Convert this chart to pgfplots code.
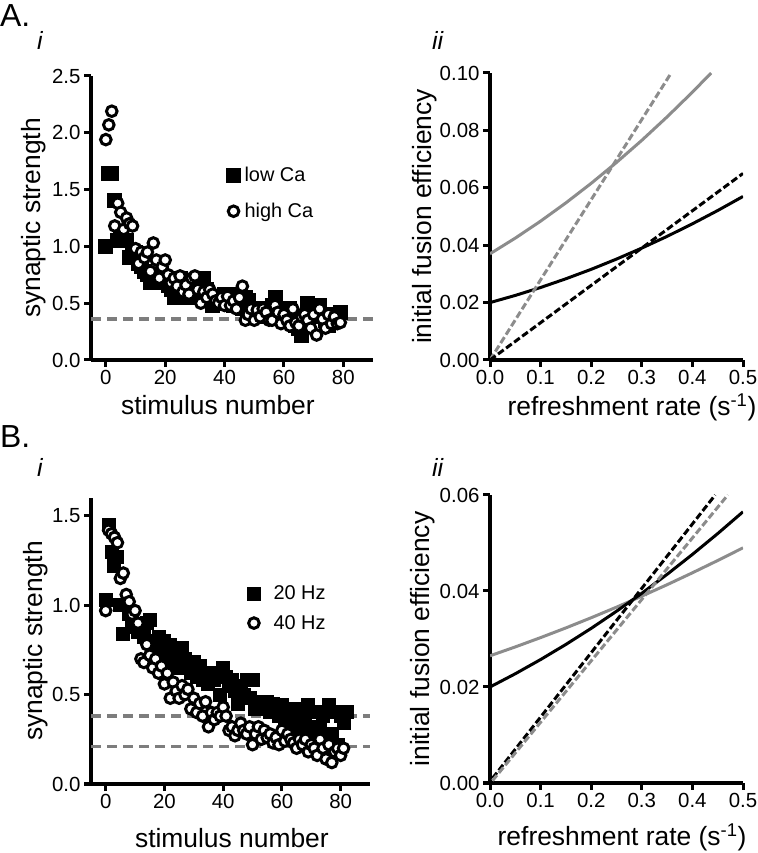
\documentclass[border=0pt]{standalone}
\usepackage{pgfplots}
\pgfplotsset{compat=1.18}
\usepackage{fontspec}
\setmainfont{Liberation Sans}
\definecolor{lgray}{RGB}{125,125,125}
\definecolor{cgray}{RGB}{140,140,140}
\pgfplotsset{
  myax/.style={
    scale only axis,
    axis lines=left,
    axis line style={line width=3.4bp, -},
    tick align=outside,
    major tick length=7bp,
    tick style={line width=3bp, black},
    tick label style={font=\fontsize{20.5}{24}\selectfont},
    label style={font=\fontsize{26.5}{32}\selectfont},
    /pgf/number format/assume math mode=true,
    scaled ticks=false,
    legend style={draw=none, fill=none, font=\fontsize{20}{24}\selectfont, inner sep=0pt, cells={anchor=west}},
  },
  sq/.style={only marks, mark=square*, mark size=7bp, mark options={fill=black, draw=black, line width=0pt}},
  ci/.style={only marks, mark=*, mark size=5.3bp, mark options={fill=white, draw=black, line width=3bp}},
  hdash/.style={lgray, line width=3.4bp, dash pattern=on 10bp off 6bp},
  sdash/.style={line width=3bp, dash pattern=on 7bp off 3bp},
  csolid/.style={line width=3bp},
}
\begin{document}
\begin{tikzpicture}
\useasboundingbox (0bp,0bp) rectangle (758bp,853bp);
% panel letters
\node[anchor=base west, inner sep=0, font=\fontsize{32}{36}\selectfont] at (0bp,826bp) {A.};
\node[anchor=base west, inner sep=0, font=\fontsize{32}{36}\selectfont] at (0bp,405bp) {B.};
\node[anchor=base west, inner sep=0, font=\itshape\fontsize{25}{28}\selectfont] at (37bp,803bp) {i};
\node[anchor=base west, inner sep=0, font=\itshape\fontsize{25}{28}\selectfont] at (37bp,376bp) {i};
\node[anchor=base west, inner sep=0, font=\itshape\fontsize{25}{28}\selectfont] at (432bp,803bp) {ii};
\node[anchor=base west, inner sep=0, font=\itshape\fontsize{25}{28}\selectfont] at (432bp,376bp) {ii};

% ---------------- A(i)
\begin{axis}[myax, at={(91bp,493bp)}, anchor=south west, width=282bp, height=284bp,
  xmin=-5, xmax=90, ymin=0, ymax=2.5,
  xtick={0,20,40,60,80}, ytick={0,0.5,1,1.5,2,2.5},
  yticklabel style={/pgf/number format/fixed, /pgf/number format/fixed zerofill, /pgf/number format/precision=1},
  xlabel={stimulus number}, ylabel={synaptic strength},
  xlabel style={at={(axis description cs:0.45,-0.158)}, anchor=center},
  ylabel style={at={(axis description cs:-0.202,0.5)}, anchor=center},
  legend style={at={(axis description cs:0.48,0.686)}, anchor=north west, row sep=16bp},
]
\addplot[hdash, forget plot] coordinates {(-5,0.36) (90,0.36)};
\addplot[sq] coordinates {
(0,1.00)(1,1.64)(2,1.64)(3,1.40)(4,1.05)(5,1.08)(6,1.05)(7,1.05)(8,0.90)(9,0.95)
(10,0.95)(11,0.85)(12,0.82)(13,0.78)(14,0.75)(15,0.68)(16,0.72)(17,0.70)(18,0.75)(19,0.68)
(20,0.70)(21,0.66)(22,0.62)(23,0.55)(24,0.70)(25,0.72)(26,0.65)(27,0.70)(28,0.55)(29,0.62)
(30,0.68)(31,0.60)(32,0.70)(33,0.72)(34,0.62)(35,0.55)(36,0.48)(37,0.52)(38,0.55)(39,0.50)
(40,0.58)(41,0.52)(42,0.50)(43,0.48)(44,0.58)(45,0.50)(46,0.45)(47,0.55)(48,0.52)(49,0.45)
(50,0.42)(51,0.40)(52,0.45)(53,0.40)(54,0.38)(55,0.42)(56,0.48)(57,0.55)(58,0.45)(59,0.40)
(60,0.42)(61,0.38)(62,0.45)(63,0.38)(64,0.30)(65,0.28)(66,0.22)(67,0.30)(68,0.50)(69,0.45)
(70,0.38)(71,0.42)(72,0.48)(73,0.40)(74,0.35)(75,0.30)(76,0.38)(77,0.35)(78,0.40)(79,0.42)};
\addlegendentry{\kern2bp low Ca}
\addplot[ci] coordinates {
(0,1.94)(1,2.07)(2,2.19)(3,1.18)(4,1.38)(5,1.30)(6,1.15)(7,1.25)(8,1.20)(9,1.18)
(10,0.98)(11,0.85)(12,0.95)(13,0.90)(14,0.95)(15,0.78)(16,1.03)(17,0.88)(18,0.72)(19,0.82)
(20,0.88)(21,0.75)(22,0.68)(23,0.72)(24,0.65)(25,0.74)(26,0.60)(27,0.66)(28,0.58)(29,0.72)
(30,0.74)(31,0.62)(32,0.50)(33,0.60)(34,0.55)(35,0.62)(36,0.58)(37,0.52)(38,0.50)(39,0.55)
(40,0.48)(41,0.56)(42,0.48)(43,0.52)(44,0.45)(45,0.55)(46,0.65)(47,0.35)(48,0.40)(49,0.45)
(50,0.35)(51,0.44)(52,0.38)(53,0.45)(54,0.42)(55,0.35)(56,0.35)(57,0.48)(58,0.42)(59,0.32)
(60,0.40)(61,0.35)(62,0.30)(63,0.45)(64,0.33)(65,0.30)(66,0.38)(67,0.40)(68,0.35)(69,0.28)
(70,0.40)(71,0.22)(72,0.45)(73,0.36)(74,0.28)(75,0.40)(76,0.32)(77,0.38)(78,0.32)(79,0.33)};
\addlegendentry{\kern2bp high Ca}
\end{axis}

% ---------------- A(ii)
\begin{axis}[myax, at={(490bp,493bp)}, anchor=south west, width=253bp, height=287bp,
  xmin=0, xmax=0.5, ymin=0, ymax=0.1,
  xtick={0,0.1,0.2,0.3,0.4,0.5}, ytick={0,0.02,0.04,0.06,0.08,0.1},
  xticklabel style={/pgf/number format/fixed, /pgf/number format/fixed zerofill, /pgf/number format/precision=1},
  yticklabel style={/pgf/number format/fixed, /pgf/number format/fixed zerofill, /pgf/number format/precision=2},
  xlabel={refreshment rate (s\textsuperscript{-1})}, ylabel={initial fusion efficiency},
  xlabel style={at={(axis description cs:0.561,-0.165)}, anchor=center},
  ylabel style={at={(axis description cs:-0.26,0.5)}, anchor=center},
]
\addplot[cgray, csolid] coordinates {
(0,0.0370)(0.05,0.04247)(0.1,0.04838)(0.15,0.05475)(0.2,0.06156)(0.25,0.06883)(0.3,0.07654)(0.35,0.08471)(0.4,0.09332)(0.437,0.1)};
\addplot[black, csolid] coordinates {
(0,0.02)(0.05,0.02250)(0.1,0.02526)(0.15,0.02830)(0.2,0.03159)(0.25,0.03516)(0.3,0.03899)(0.35,0.04308)(0.4,0.04745)(0.45,0.05208)(0.5,0.05698)};
\addplot[cgray, sdash] coordinates {(0,0)(0.358,0.1)};
\addplot[black, sdash] coordinates {(0,0)(0.5,0.065)};
\end{axis}

% ---------------- B(i)
\begin{axis}[myax, at={(91bp,69bp)}, anchor=south west, width=279bp, height=286bp,
  xmin=-5, xmax=90, ymin=0, ymax=1.6,
  xtick={0,20,40,60,80}, ytick={0,0.5,1,1.5},
  yticklabel style={/pgf/number format/fixed, /pgf/number format/fixed zerofill, /pgf/number format/precision=1},
  xlabel={stimulus number}, ylabel={synaptic strength},
  xlabel style={at={(axis description cs:0.505,-0.189)}, anchor=center},
  ylabel style={at={(axis description cs:-0.197,0.5)}, anchor=center},
  legend style={at={(axis description cs:0.56,0.70)}, anchor=north west, row sep=10bp},
  sq/.append style={mark size=6.5bp},
]
\addplot[hdash, forget plot] coordinates {(-5,0.38) (90,0.38)};
\addplot[hdash, forget plot] coordinates {(-5,0.21) (90,0.21)};
\addplot[sq] coordinates {
(0,1.03)(1,1.45)(2,1.30)(3,1.22)(4,1.27)(5,1.00)(6,0.84)(7,1.00)(8,0.95)(9,0.92)
(10,0.88)(11,0.85)(12,0.88)(13,0.82)(14,0.90)(15,0.92)(16,0.80)(17,0.78)(18,0.82)(19,0.75)
(20,0.80)(21,0.72)(22,0.78)(23,0.68)(24,0.72)(25,0.65)(26,0.76)(27,0.70)(28,0.66)(29,0.62)
(30,0.68)(31,0.60)(32,0.66)(33,0.58)(34,0.62)(35,0.56)(36,0.60)(37,0.58)(38,0.62)(39,0.50)
(40,0.65)(41,0.60)(42,0.55)(43,0.58)(44,0.52)(45,0.45)(46,0.55)(47,0.50)(48,0.58)(49,0.48)
(50,0.58)(51,0.42)(52,0.46)(53,0.44)(54,0.42)(55,0.46)(56,0.40)(57,0.45)(58,0.42)(59,0.38)
(60,0.44)(61,0.35)(62,0.40)(63,0.32)(64,0.42)(65,0.36)(66,0.42)(67,0.30)(68,0.38)(69,0.44)
(70,0.32)(71,0.28)(72,0.40)(73,0.30)(74,0.38)(75,0.28)(76,0.44)(77,0.28)(78,0.40)(79,0.22)
(80,0.38)(81,0.34)(82,0.40)};
\addlegendentry{\ \ 20 Hz}
\addplot[ci] coordinates {
(0,0.97)(1,1.42)(2,1.40)(3,1.38)(4,1.35)(5,1.15)(6,1.18)(7,1.06)(8,1.02)(9,0.95)
(10,0.97)(11,0.90)(12,0.70)(13,0.68)(14,0.78)(15,0.72)(16,0.65)(17,0.70)(18,0.62)(19,0.66)
(20,0.56)(21,0.62)(22,0.48)(23,0.57)(24,0.52)(25,0.48)(26,0.55)(27,0.50)(28,0.53)(29,0.42)
(30,0.48)(31,0.40)(32,0.45)(33,0.38)(34,0.46)(35,0.32)(36,0.40)(37,0.36)(38,0.40)(39,0.38)
(40,0.43)(41,0.38)(42,0.30)(43,0.32)(44,0.27)(45,0.30)(46,0.34)(47,0.30)(48,0.28)(49,0.32)
(50,0.22)(51,0.28)(52,0.32)(53,0.25)(54,0.30)(55,0.26)(56,0.28)(57,0.23)(58,0.26)(59,0.22)
(60,0.30)(61,0.24)(62,0.28)(63,0.25)(64,0.23)(65,0.20)(66,0.25)(67,0.22)(68,0.25)(69,0.18)
(70,0.22)(71,0.20)(72,0.16)(73,0.25)(74,0.20)(75,0.14)(76,0.22)(77,0.12)(78,0.18)(79,0.20)
(80,0.16)(81,0.20)};
\addlegendentry{\ \ 40 Hz}
\end{axis}

% ---------------- B(ii)
\begin{axis}[myax, at={(490bp,70bp)}, anchor=south west, width=253bp, height=288bp,
  xmin=0, xmax=0.5, ymin=0, ymax=0.06,
  xtick={0,0.1,0.2,0.3,0.4,0.5}, ytick={0,0.02,0.04,0.06},
  xticklabel style={/pgf/number format/fixed, /pgf/number format/fixed zerofill, /pgf/number format/precision=1},
  yticklabel style={/pgf/number format/fixed, /pgf/number format/fixed zerofill, /pgf/number format/precision=2},
  xlabel={refreshment rate (s\textsuperscript{-1})}, ylabel={initial fusion efficiency},
  xlabel style={at={(axis description cs:0.522,-0.19)}, anchor=center},
  ylabel style={at={(axis description cs:-0.265,0.5)}, anchor=center},
]
\addplot[cgray, csolid] coordinates {
(0,0.0265)(0.05,0.02835)(0.1,0.03029)(0.15,0.03231)(0.2,0.03443)(0.25,0.03663)(0.3,0.03893)(0.35,0.04131)(0.4,0.04379)(0.45,0.04635)(0.5,0.0490)};
\addplot[black, csolid] coordinates {
(0,0.02)(0.05,0.02276)(0.1,0.02572)(0.15,0.02887)(0.2,0.03222)(0.25,0.03578)(0.3,0.03952)(0.35,0.04347)(0.4,0.04762)(0.45,0.05196)(0.5,0.0565)};
\addplot[black, sdash] coordinates {(0.005,0.001)(0.445,0.06)};
\addplot[cgray, sdash] coordinates {(0.005,0.0005)(0.47,0.06)};
\end{axis}
\end{tikzpicture}
\end{document}
